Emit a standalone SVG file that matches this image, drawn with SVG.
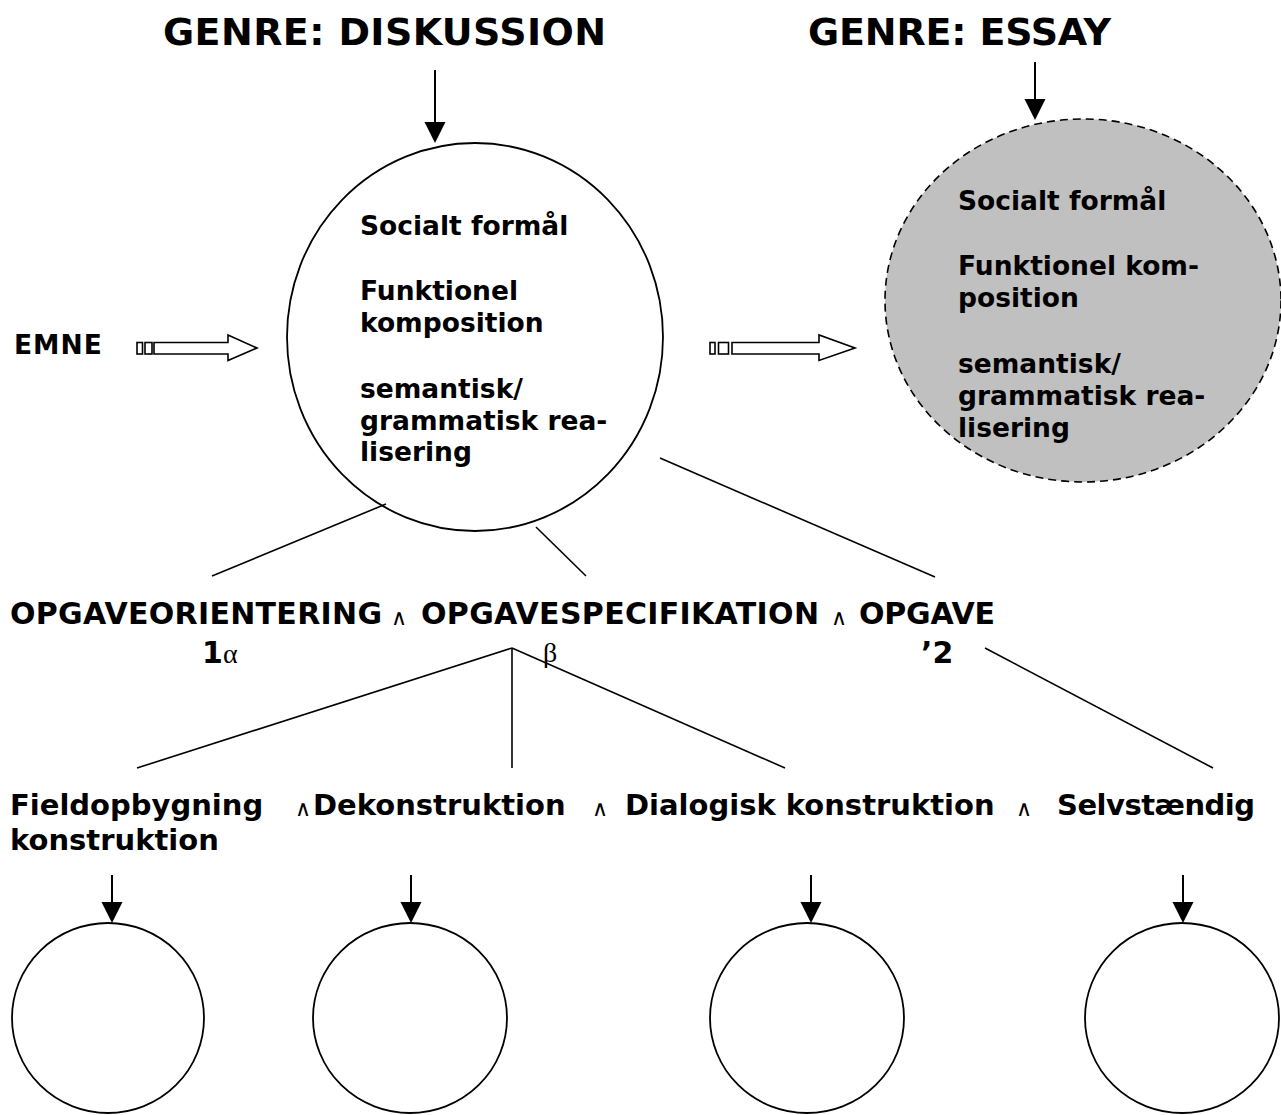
<svg xmlns="http://www.w3.org/2000/svg" width="1281" height="1115" viewBox="0 0 1281 1115">
<style>
.b{font-family:"DejaVu Sans","Verdana",sans-serif;font-weight:bold;fill:#000}
.t{font-size:38px}
.c{font-size:26.5px}
.r{font-size:30px}
.s{font-size:29px}
.g{font-family:"Liberation Serif","Times New Roman",serif;font-weight:normal;fill:#000}
.and{font-family:"DejaVu Sans",sans-serif;font-weight:normal;font-size:22px;fill:#000}
.ln{stroke:#000;stroke-width:1.6;fill:none}
.ar{stroke:#000;stroke-width:2;fill:none}
.node{fill:#fff;stroke:#000;stroke-width:1.8}
.ess{fill:#c0c0c0;stroke:#000;stroke-width:1.6;stroke-dasharray:8 5}
.blk{fill:#fff;stroke:#000;stroke-width:1.6}
</style>
<defs>
<marker id="ah" markerUnits="userSpaceOnUse" markerWidth="22" markerHeight="22" refX="11" refY="10.5" orient="auto">
<path d="M0,0 L21,10.5 L0,21 Z" fill="#000"/>
</marker>
</defs>
<rect width="1281" height="1115" fill="#fff"/>

<g id="title-diskussion"><text class="b t" x="163" y="45" textLength="443">GENRE: DISKUSSION</text></g>
<g id="title-essay"><text class="b t" x="808" y="45" textLength="303">GENRE: ESSAY</text></g>

<g id="emne"><text class="b c" x="14" y="354" letter-spacing="1">EMNE</text></g>

<g id="arrow-emne">
<rect class="blk" x="137" y="342.5" width="5.5" height="11.5"/>
<rect class="blk" x="145" y="342.5" width="7" height="11.5"/>
<path class="blk" d="M154,342.5 H228 V335 L257,348 L228,360.5 V354 H154 Z"/>
</g>
<g id="arrow-essay">
<rect class="blk" x="710" y="342.5" width="5" height="11.5"/>
<rect class="blk" x="718.5" y="342.5" width="10" height="11.5"/>
<path class="blk" d="M732,342.5 H819 V335 L855,348 L819,360.5 V354 H732 Z"/>
</g>

<g id="node-diskussion">
<ellipse class="node" cx="475" cy="337" rx="188" ry="194"/>
<text class="b c" x="360" y="235">Socialt formål</text>
<text class="b c" x="360" y="300">Funktionel</text>
<text class="b c" x="360" y="332">komposition</text>
<text class="b c" x="360" y="398">semantisk/</text>
<text class="b c" x="360" y="430">grammatisk rea-</text>
<text class="b c" x="360" y="461">lisering</text>
</g>

<g id="node-essay">
<ellipse class="ess" cx="1083" cy="300.5" rx="198" ry="181.5"/>
<text class="b c" x="958" y="210">Socialt formål</text>
<text class="b c" x="958" y="275">Funktionel kom-</text>
<text class="b c" x="958" y="307">position</text>
<text class="b c" x="958" y="373">semantisk/</text>
<text class="b c" x="958" y="405">grammatisk rea-</text>
<text class="b c" x="958" y="437">lisering</text>
</g>

<g id="row-opgave">
<text class="b r" x="10" y="624" textLength="372">OPGAVEORIENTERING</text>
<text class="and" x="391" y="625">∧</text>
<text class="b r" x="421" y="624" textLength="398">OPGAVESPECIFIKATION</text>
<text class="and" x="831" y="625">∧</text>
<text class="b r" x="859" y="624" textLength="136">OPGAVE</text>
<text class="b r" x="202" y="663">1</text>
<text class="g" x="223" y="663" font-size="28">α</text>
<text class="g" x="543" y="662" font-size="28">β</text>
<text class="b r" x="921" y="663">’2</text>
</g>

<g id="row-stages">
<text class="b s" x="10" y="815">Fieldopbygning</text>
<text class="and" x="295" y="816">∧</text>
<text class="b s" x="313" y="815">Dekonstruktion</text>
<text class="and" x="592" y="816">∧</text>
<text class="b s" x="625" y="815">Dialogisk konstruktion</text>
<text class="and" x="1016" y="816">∧</text>
<text class="b s" x="1057" y="815" textLength="198">Selvstændig</text>
<text class="b s" x="10" y="850">konstruktion</text>
</g>

<g id="stage-1"><ellipse class="node" cx="108" cy="1018" rx="96" ry="95"/></g>
<g id="stage-2"><ellipse class="node" cx="410" cy="1018" rx="97" ry="95"/></g>
<g id="stage-3"><ellipse class="node" cx="807" cy="1018" rx="97" ry="95"/></g>
<g id="stage-4"><ellipse class="node" cx="1182" cy="1018" rx="97" ry="95"/></g>

<g id="connectors">
<line class="ar" x1="435" y1="70" x2="435" y2="133" marker-end="url(#ah)"/>
<line class="ar" x1="1035" y1="62" x2="1035" y2="110" marker-end="url(#ah)"/>
<line class="ln" x1="386" y1="504" x2="212" y2="576"/>
<line class="ln" x1="536" y1="527" x2="586" y2="576"/>
<line class="ln" x1="660" y1="458" x2="935" y2="577"/>
<line class="ln" x1="512" y1="648" x2="137" y2="768"/>
<line class="ln" x1="512" y1="648" x2="512" y2="768"/>
<line class="ln" x1="512" y1="648" x2="785" y2="768"/>
<line class="ln" x1="985" y1="648" x2="1213" y2="768"/>
<line class="ar" x1="112" y1="875" x2="112" y2="913" marker-end="url(#ah)"/>
<line class="ar" x1="411" y1="875" x2="411" y2="913" marker-end="url(#ah)"/>
<line class="ar" x1="811" y1="875" x2="811" y2="913" marker-end="url(#ah)"/>
<line class="ar" x1="1183" y1="875" x2="1183" y2="913" marker-end="url(#ah)"/>
</g>
</svg>
